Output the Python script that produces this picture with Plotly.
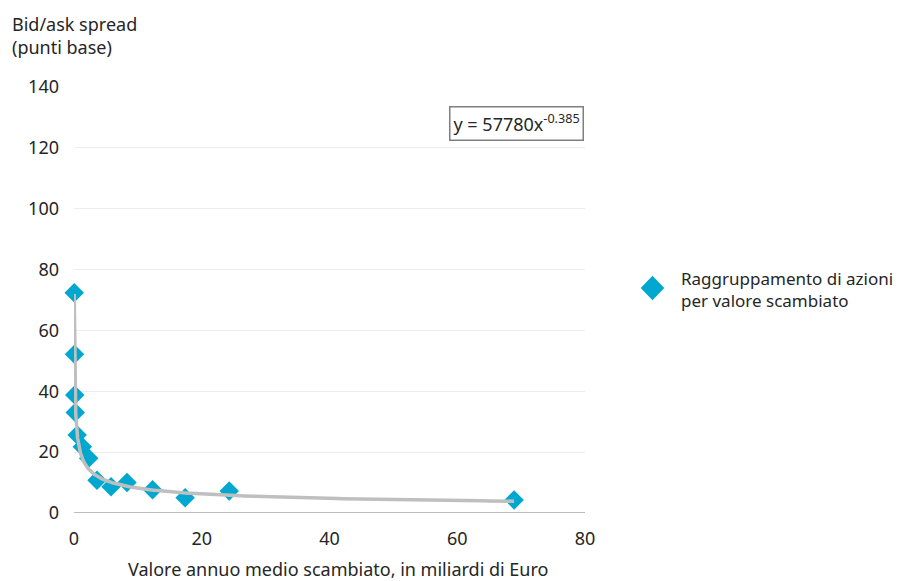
import numpy as np
import plotly.graph_objects as go

# Average annual traded value (billion EUR) and bid/ask spread (basis points)
traded_value = [0.035, 0.08, 0.12, 0.2, 0.5, 1.3, 2.3, 3.6, 5.8, 8.3, 12.3, 17.4, 24.3, 68.9]
spread_bp = [72.4, 52.2, 38.8, 33.0, 25.6, 21.8, 18.0, 10.8, 8.6, 10.0, 7.6, 5.0, 7.2, 4.3]

# Power-law trend fitted on values expressed in euros
coef_a = 57780
coef_b = -0.385

x_fit = np.geomspace(min(traded_value), max(traded_value), 400)
y_fit = coef_a * (x_fit * 1e9) ** coef_b

font_family = "'Noto Sans', 'Open Sans', sans-serif"
text_color = "#262626"
marker_color = "#00A8CF"
fs = 18

# plot-area geometry in pixels (used to place the side key in paper units)
W, H = 904, 581
ML, MR, MT, MB = 74, 319, 87, 68
PW, PH = W - ML - MR, H - MT - MB


def px_to_paper(px, py):
    return (px - ML) / PW, (H - MB - py) / PH


fig = go.Figure()

fig.add_trace(go.Scatter(
    x=traded_value, y=spread_bp, mode="markers", showlegend=False,
    name="Raggruppamento di azioni per valore scambiato",
    marker=dict(symbol="diamond", size=15, color=marker_color, line=dict(width=0)),
    cliponaxis=False,
))

fig.add_trace(go.Scatter(
    x=x_fit, y=y_fit, mode="lines", showlegend=False,
    line=dict(color="#BFBFBF", width=3.5), hoverinfo="skip",
    cliponaxis=False,
))

# key: diamond symbol + label at the right of the plot
kx, ky = px_to_paper(652.5, 288)
hw, hh = 11.8 / PW, 12.3 / PH
key_path = (f"M {kx - hw},{ky} L {kx},{ky + hh} L {kx + hw},{ky} "
            f"L {kx},{ky - hh} Z")
lx, ly = px_to_paper(679, 289)

tx0, ty0 = px_to_paper(10, 10)
xtx, xty = px_to_paper(338, 569)
ex, ey = px_to_paper(584, 106)

fig.update_layout(
    width=W, height=H,
    margin=dict(l=ML, r=MR, t=MT, b=MB),
    paper_bgcolor="white", plot_bgcolor="white",
    font=dict(family=font_family, size=fs, color=text_color),
    showlegend=False,
    xaxis=dict(range=[0, 80], dtick=20, showgrid=False, zeroline=False,
               showline=False, ticks="", ticklabelstandoff=13,
               tickfont=dict(size=fs, color=text_color)),
    yaxis=dict(range=[0, 140], dtick=20, showgrid=True, gridcolor="#EDEDED",
               gridwidth=1, zeroline=False, showline=False, ticks="",
               ticklabelstandoff=14, tickfont=dict(size=fs, color=text_color)),
    shapes=[
        dict(type="line", xref="x", yref="y", x0=0, x1=80, y0=0, y1=0,
             line=dict(color="#A6A6A6", width=1.5)),
        dict(type="path", xref="paper", yref="paper", path=key_path,
             fillcolor=marker_color, line=dict(width=0)),
    ],
    annotations=[
        dict(text="Bid/ask spread<br>(punti base)", xref="paper", yref="paper",
             x=tx0, y=ty0, xanchor="left", yanchor="top",
             align="left", showarrow=False, font=dict(size=fs, color=text_color)),
        dict(text="Valore annuo medio scambiato, in miliardi di Euro",
             xref="paper", yref="paper", x=xtx, y=xty,
             xanchor="center", yanchor="middle", showarrow=False,
             font=dict(size=fs, color=text_color)),
        dict(text="y = 57780x<sup>-0.385</sup>", xref="paper", yref="paper",
             x=ex, y=ey, xanchor="right", yanchor="top", showarrow=False,
             bordercolor="#7F7F7F", borderwidth=1.5, borderpad=3,
             bgcolor="white", font=dict(size=fs, color=text_color)),
        dict(text="Raggruppamento di azioni<br>per valore scambiato",
             xref="paper", yref="paper", x=lx, y=ly,
             xanchor="left", yanchor="middle", align="left", showarrow=False,
             font=dict(size=17, color=text_color)),
    ],
)

fig.write_html("out.html")
